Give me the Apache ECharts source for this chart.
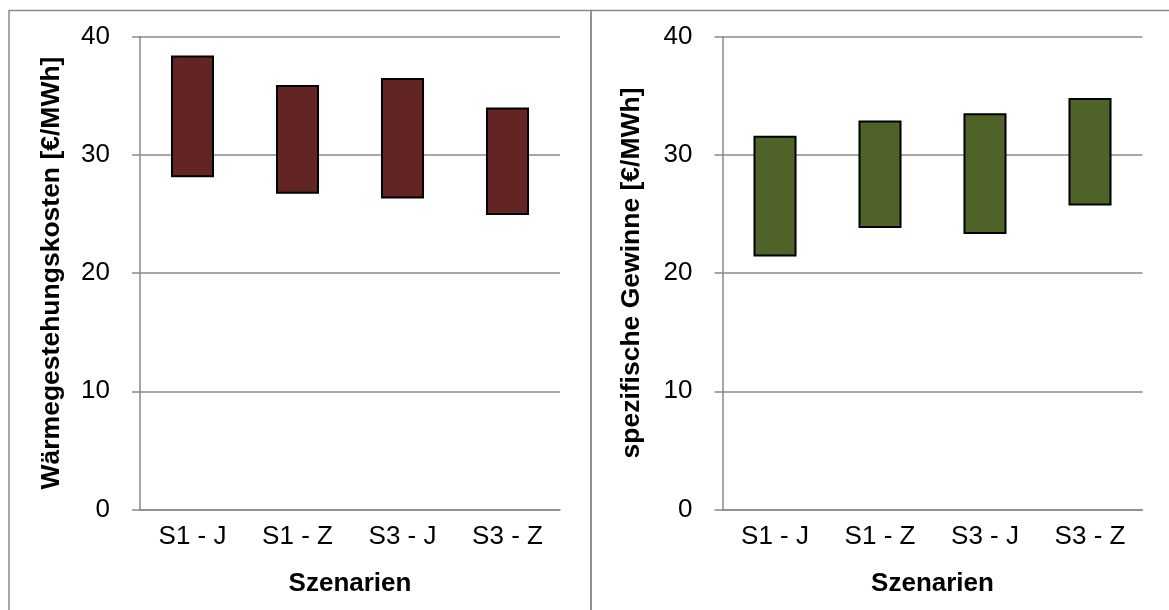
<!DOCTYPE html>
<html>
<head>
<meta charset="utf-8">
<script src="https://cdn.jsdelivr.net/npm/echarts@6/dist/echarts.min.js"></script>
<style>
html,body{margin:0;padding:0;background:#fff;}
#chart{width:1169px;height:610px;}
</style>
</head>
<body>
<div id="chart"></div>
<script>
var categories = ['S1 - J', 'S1 - Z', 'S3 - J', 'S3 - Z'];
var costLow  = [28.1, 26.7, 26.3, 24.9];
var costHigh = [38.4, 35.9, 36.5, 34.0];
var gainLow  = [21.4, 23.8, 23.3, 25.7];
var gainHigh = [31.6, 32.9, 33.5, 34.8];
var yTicks = [0, 10, 20, 30, 40];
var xTitle = 'Szenarien';
var yTitleLeft = 'Wärmegestehungskosten [€/MWh]';
var yTitleRight = 'spezifische Gewinne [€/MWh]';

function diff(hi, lo){ return hi.map(function(v,i){ return +(v - lo[i]).toFixed(2); }); }

var FONT = '"Liberation Sans", Arial, sans-serif';
var GRAY = '#8a8a8a';

function xAxis(idx){
  return {
    type: 'category', gridIndex: idx, data: categories,
    axisLine: {lineStyle: {color: GRAY, width: 1.5}},
    axisTick: {length: 7, lineStyle: {color: GRAY, width: 1.5}},
    axisLabel: {color: '#000', fontFamily: FONT, fontSize: 26, margin: 14},
    name: xTitle, nameLocation: 'middle', nameGap: 61,
    nameTextStyle: {color: '#000', fontFamily: FONT, fontSize: 26, fontWeight: 'bold'}
  };
}
function yAxis(idx, title, gap){
  return {
    type: 'value', gridIndex: idx, min: yTicks[0], max: yTicks[yTicks.length-1], interval: 10,
    axisLine: {show: true, lineStyle: {color: GRAY, width: 1.5}},
    axisTick: {show: true, length: 8, lineStyle: {color: GRAY, width: 1.5}},
    splitLine: {lineStyle: {color: GRAY, width: 1.5}},
    axisLabel: {color: '#000', fontFamily: FONT, fontSize: 26, margin: 30},
    name: title, nameLocation: 'middle', nameGap: gap, nameRotate: 90,
    nameTextStyle: {color: '#000', fontFamily: FONT, fontSize: 26.5, fontWeight: 'bold'}
  };
}
function bars(idx, lo, hi, color){
  return [
    {type: 'bar', xAxisIndex: idx, yAxisIndex: idx, stack: 's' + idx, data: lo,
     barWidth: '41%', itemStyle: {color: 'transparent'}, silent: true},
    {type: 'bar', xAxisIndex: idx, yAxisIndex: idx, stack: 's' + idx, data: diff(hi, lo),
     barWidth: '41%', itemStyle: {color: color, borderColor: '#000', borderWidth: 2}}
  ];
}

var chart = echarts.init(document.getElementById('chart'), null, {renderer: 'canvas'});
chart.setOption({
  animation: false,
  backgroundColor: '#fff',
  grid: [
    {left: 140, top: 36.5, width: 420, bottom: 100.5},
    {left: 722.5, top: 36.5, width: 420, bottom: 100.5}
  ],
  xAxis: [xAxis(0), xAxis(1)],
  yAxis: [yAxis(0, yTitleLeft, 75), yAxis(1, yTitleRight, 77)],
  series: bars(0, costLow, costHigh, '#632523').concat(bars(1, gainLow, gainHigh, '#4F6228')),
  graphic: [
    {type: 'rect', shape: {x: 9, y: 10.5, width: 582, height: 620}, style: {fill: null, stroke: GRAY, lineWidth: 1.5}, silent: true},
    {type: 'rect', shape: {x: 591, y: 10.5, width: 600, height: 620}, style: {fill: null, stroke: GRAY, lineWidth: 1.5}, silent: true}
  ]
});
</script>
</body>
</html>
